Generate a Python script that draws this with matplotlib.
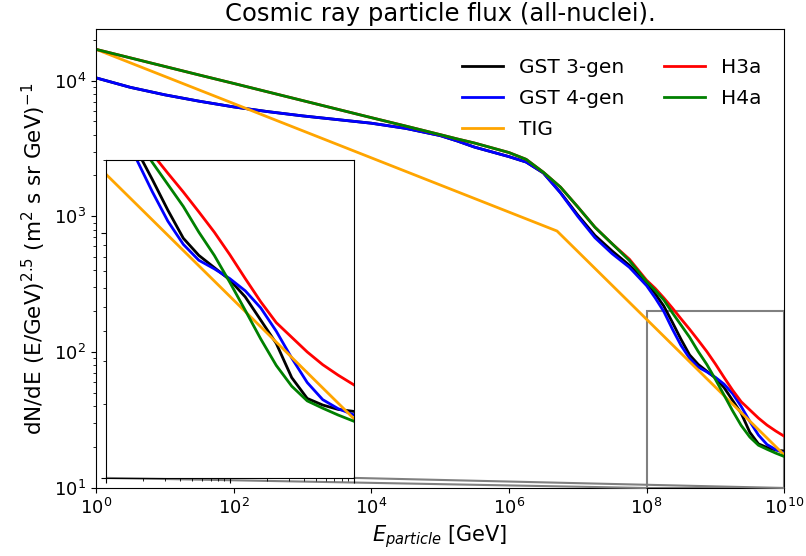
import numpy as np
import matplotlib
matplotlib.use('Agg')
import matplotlib.pyplot as plt
from matplotlib.ticker import NullFormatter
from mpl_toolkits.axes_grid1.inset_locator import mark_inset

# log10(E/GeV) grid
log_e = [0, 0.5, 1, 1.5, 2, 2.5, 3, 3.5, 4, 4.5, 5,
         5.25, 5.5, 5.75, 6, 6.25, 6.5, 6.75, 7, 7.25, 7.5, 7.75,
         8, 8.125, 8.25, 8.375, 8.5, 8.625, 8.75, 8.875, 9,
         9.125, 9.25, 9.375, 9.5, 9.625, 9.75, 9.875, 10]

# log10 of E^2.5 weighted flux for each model
gst3_log = [4.020, 3.950, 3.895, 3.848, 3.806, 3.771, 3.740, 3.713, 3.686, 3.648, 3.595,
            3.555, 3.510, 3.475, 3.440, 3.400, 3.320, 3.175, 3.010, 2.860, 2.745, 2.640,
            2.515, 2.430, 2.340, 2.220, 2.095, 1.980, 1.910, 1.860, 1.810,
            1.740, 1.645, 1.550, 1.410, 1.325, 1.298, 1.280, 1.272]
gst4_log = [4.020, 3.950, 3.895, 3.848, 3.806, 3.771, 3.740, 3.713, 3.686, 3.648, 3.595,
            3.555, 3.510, 3.475, 3.440, 3.400, 3.320, 3.172, 3.000, 2.843, 2.725, 2.625,
            2.490, 2.400, 2.300, 2.170, 2.050, 1.955, 1.890, 1.855, 1.815,
            1.765, 1.695, 1.600, 1.490, 1.390, 1.320, 1.283, 1.258]
h3a_log = [4.230, 4.167, 4.104, 4.041, 3.979, 3.916, 3.853, 3.790, 3.727, 3.665, 3.602,
           3.570, 3.540, 3.505, 3.470, 3.420, 3.325, 3.215, 3.070, 2.920, 2.798, 2.685,
           2.530, 2.470, 2.400, 2.325, 2.246, 2.169, 2.088, 2.005, 1.913,
           1.815, 1.720, 1.635, 1.575, 1.515, 1.463, 1.420, 1.381]
h4a_log = [4.230, 4.167, 4.104, 4.041, 3.979, 3.916, 3.853, 3.790, 3.727, 3.665, 3.602,
           3.570, 3.540, 3.505, 3.470, 3.420, 3.325, 3.215, 3.070, 2.920, 2.798, 2.675,
           2.520, 2.455, 2.385, 2.290, 2.200, 2.110, 2.005, 1.910, 1.800,
           1.685, 1.568, 1.460, 1.375, 1.315, 1.285, 1.257, 1.232]

# TIG broken power law
tig_e = [1, 5e6, 1e10]
tig_flux = [17000, 780, 17.5]

energy = 10.0 ** np.array(log_e)
models = [
    ('GST 3-gen', energy, 10.0 ** np.array(gst3_log), 'black'),
    ('GST 4-gen', energy, 10.0 ** np.array(gst4_log), 'blue'),
    ('TIG', tig_e, tig_flux, 'orange'),
    ('H3a', energy, 10.0 ** np.array(h3a_log), 'red'),
    ('H4a', energy, 10.0 ** np.array(h4a_log), 'green'),
]

fig = plt.figure(figsize=(8.06, 5.56), dpi=100)
ax = fig.add_axes([0.119, 0.1223, 0.854, 0.8257])

for name, x, y, c in models:
    ax.plot(x, y, color=c, lw=2, label=name)

ax.set_xscale('log')
ax.set_yscale('log')
ax.set_xlim(1, 1e10)
ax.set_ylim(10, 2.4e4)
ax.set_title('Cosmic ray particle flux (all-nuclei).', fontsize=17.5)
ax.set_xlabel(r'$E_{particle}$ [GeV]', fontsize=15)
ax.set_ylabel(r'dN/dE (E/GeV)$^{2.5}$ (m$^2$ s sr GeV)$^{-1}$', fontsize=15.5)
ax.tick_params(labelsize=13)
ax.legend(ncol=2, frameon=False, fontsize=14.5, loc='upper right',
          bbox_to_anchor=(0.993, 0.976), labelspacing=0.6)

# zoomed inset of the high-energy end
axins = ax.inset_axes([0.0145, 0.022, 0.36, 0.693])
for name, x, y, c in models:
    axins.plot(x, y, color=c, lw=2)
axins.set_xscale('log')
axins.set_yscale('log')
axins.set_xlim(1e8, 1e10)
axins.set_ylim(10, 200)
for a in (axins.xaxis, axins.yaxis):
    a.set_major_formatter(NullFormatter())
    a.set_minor_formatter(NullFormatter())
mark_inset(ax, axins, loc1=3, loc2=4, fc='none', ec='0.5', lw=1.5)

plt.savefig('out.png', dpi=100)
